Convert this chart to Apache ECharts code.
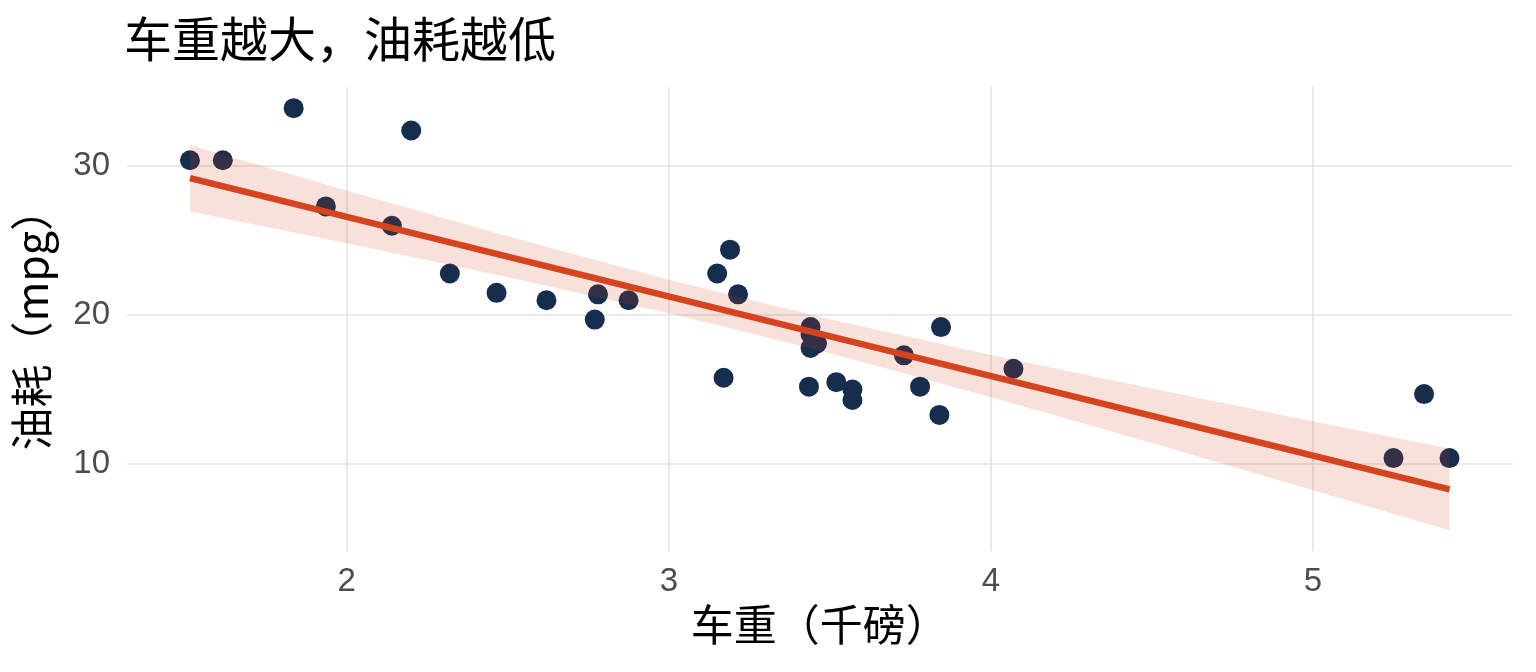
<!DOCTYPE html>
<html>
<head>
<meta charset="utf-8" />
<script src="https://cdn.jsdelivr.net/npm/echarts@6/dist/echarts.min.js"></script>
<title>车重与油耗</title>
<style>
  html, body { margin: 0; padding: 0; background: #fff; }
  #main { width: 1536px; height: 672px; }
</style>
</head>
<body>
<div id="main"></div>
<script>
// 车重（千磅）与油耗（mpg）
var weight = [2.620, 2.875, 2.320, 3.215, 3.440, 3.460, 3.570, 3.190, 3.150, 3.440, 3.440,
              4.070, 3.730, 3.780, 5.250, 5.424, 5.345, 2.200, 1.615, 1.835, 2.465, 3.520,
              3.435, 3.840, 3.845, 1.935, 2.140, 1.513, 3.170, 2.770, 3.570, 2.780];
var mpg = [21.0, 21.0, 22.8, 21.4, 18.7, 18.1, 14.3, 24.4, 22.8, 19.2, 17.8,
           16.4, 17.3, 15.2, 10.4, 10.4, 14.7, 32.4, 30.4, 33.9, 21.5, 15.5,
           15.2, 13.3, 19.2, 27.3, 26.0, 30.4, 15.8, 19.7, 15.0, 21.4];

// 拟合线两端
var fitX = [1.513, 5.424];
var fitY = [29.20, 8.30];

// 置信带
var bandX = [1.513, 2.0, 2.5, 3.0, 3.5, 4.0, 4.5, 5.0, 5.424];
var bandLow = [26.96, 24.82, 22.55, 20.13, 17.44, 14.49, 11.41, 8.25, 5.55];
var bandHigh = [31.43, 28.37, 25.30, 22.38, 19.73, 17.33, 15.07, 12.88, 11.05];

var xTicks = [2, 3, 4, 5];
var yTicks = [10, 20, 30];

var pts = weight.map(function (w, i) { return [w, mpg[i]]; });
var fitData = fitX.map(function (x, i) { return [x, fitY[i]]; });
var bandData = bandX.map(function (x, i) { return [x, bandLow[i], bandHigh[i]]; });

var gridLines = [];
xTicks.forEach(function (v) { gridLines.push({ xAxis: v }); });
yTicks.forEach(function (v) { gridLines.push({ yAxis: v }); });

// 置信带多边形：只在第一个点画整条带
function renderBand(params, api) {
  if (params.dataIndex !== 0) return null;
  var upper = [], lower = [];
  for (var i = 0; i < bandData.length; i++) {
    upper.push(api.coord([bandData[i][0], bandData[i][2]]));
    lower.unshift(api.coord([bandData[i][0], bandData[i][1]]));
  }
  return {
    type: 'polygon',
    shape: { points: upper.concat(lower) },
    style: { fill: 'rgba(213,68,31,0.16)' }
  };
}

var myChart = echarts.init(document.getElementById('main'));
var tickFont = { fontFamily: 'Liberation Sans, Arial, sans-serif', fontSize: 33, color: '#4d4d4d' };
var titleFont = 'Noto Sans CJK SC, sans-serif';

var option = {
  animation: false,
  title: {
    text: '车重越大，油耗越低',
    left: 119, top: 10,
    textStyle: { fontFamily: titleFont, fontSize: 48, fontWeight: 'normal', color: '#000' }
  },
  grid: { left: 127, right: 23.5, top: 87, bottom: 120.5, containLabel: false },
  xAxis: {
    type: 'value',
    min: 1.3175, max: 5.6196,
    splitNumber: 4,
    name: '车重（千磅）',
    nameLocation: 'middle',
    nameGap: 50,
    nameTextStyle: { fontFamily: titleFont, fontSize: 43, color: '#000' },
    axisLine: { show: false },
    axisTick: { show: false },
    splitLine: { show: false },
    axisLabel: Object.assign({ customValues: xTicks, margin: 14 }, tickFont)
  },
  yAxis: {
    type: 'value',
    min: 4.13, max: 35.32,
    splitNumber: 3,
    name: '油耗（mpg）',
    nameLocation: 'middle',
    nameRotate: 90,
    nameGap: 74,
    nameTextStyle: { fontFamily: titleFont, fontSize: 43, color: '#000' },
    axisLine: { show: false },
    axisTick: { show: false },
    splitLine: { show: false },
    axisLabel: Object.assign({ customValues: yTicks, margin: 17 }, tickFont)
  },
  series: [
    {
      type: 'scatter',
      data: [],
      silent: true,
      markLine: {
        z: 1,
        silent: true,
        symbol: 'none',
        label: { show: false },
        lineStyle: { color: '#e3e3e3', width: 1.6, type: 'solid' },
        emphasis: { disabled: true },
        data: gridLines
      }
    },
    {
      type: 'scatter',
      data: pts,
      symbolSize: 20,
      itemStyle: { color: '#162D4E', opacity: 1 },
      z: 2
    },
    {
      type: 'custom',
      data: bandData,
      renderItem: renderBand,
      encode: { x: 0, y: [1, 2] },
      silent: true,
      z: 3
    },
    {
      type: 'line',
      data: fitData,
      symbol: 'none',
      lineStyle: { color: '#D5441F', width: 6.5 },
      z: 4
    }
  ]
};
myChart.setOption(option);
</script>
</body>
</html>
